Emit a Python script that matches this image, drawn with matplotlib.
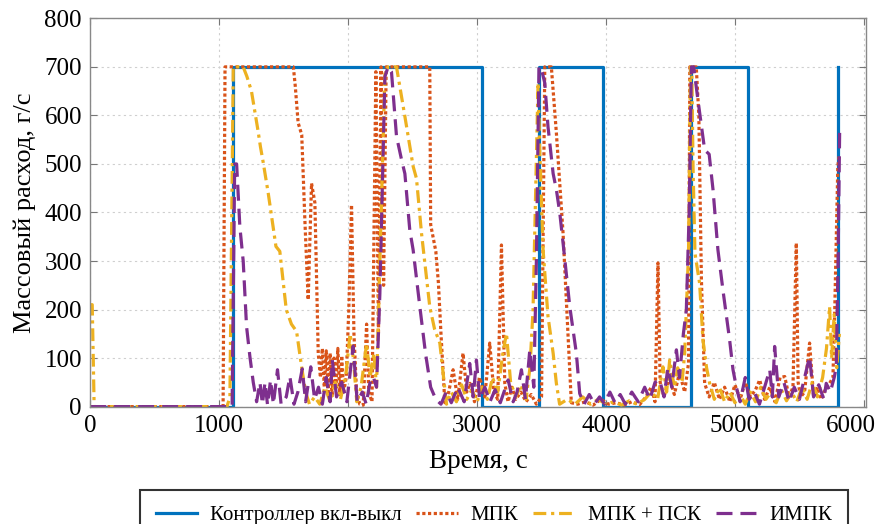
import matplotlib
matplotlib.use("Agg")
import matplotlib.pyplot as plt
from matplotlib.transforms import ScaledTranslation

plt.rcParams['font.family'] = ['Liberation Serif', 'DejaVu Serif']

# Контроллер вкл-выкл (время, расход)
onoff_t = [0, 1108, 1108, 3035, 3035, 3478, 3478, 3980, 3980, 4663, 4663, 5100, 5100, 5800, 5800]
onoff_v = [0, 0, 700, 700, 0, 0, 700, 700, 0, 0, 700, 700, 0, 0, 700]

# МПК
mpk = [(0, 0), (1030, 0), (1045, 700), (1575, 700), (1590, 660), (1612, 585), (1640, 560),
       (1665, 380), (1690, 220), (1716, 460), (1742, 420), (1768, 110), (1785, 60), (1800, 120),
       (1815, 40), (1830, 115), (1845, 30), (1860, 110), (1875, 20), (1890, 100), (1905, 35),
       (1920, 120), (1935, 25), (1950, 105), (1965, 30), (1985, 60), (2005, 200), (2026, 416),
       (2045, 150), (2065, 30), (2090, 5), (2117, 3), (2143, 170), (2160, 30), (2185, 10),
       (2215, 690), (2235, 150), (2255, 700), (2275, 250), (2295, 700), (2633, 700), (2640, 375),
       (2680, 320), (2700, 255), (2720, 150), (2750, 8), (2780, 30), (2814, 76), (2850, 15),
       (2891, 110), (2920, 30), (2945, 48), (2980, 10), (3020, 60), (3060, 20), (3098, 131),
       (3130, 30), (3160, 15), (3189, 333), (3215, 48), (3240, 10), (3270, 40), (3300, 15),
       (3340, 30), (3380, 10), (3420, 25), (3460, 5), (3500, 20), (3525, 700), (3576, 700),
       (3615, 564), (3667, 357), (3705, 151), (3731, 8), (3780, 5), (3840, 10), (3900, 3),
       (3960, 15), (4020, 5), (4080, 8), (4140, 3), (4200, 10), (4260, 4), (4310, 20), (4350, 40),
       (4380, 10), (4403, 296), (4420, 50), (4450, 20), (4490, 60), (4530, 25), (4570, 70),
       (4610, 30), (4640, 90), (4650, 700), (4700, 700), (4720, 600), (4740, 261), (4765, 48),
       (4800, 20), (4840, 50), (4880, 15), (4920, 40), (4960, 10), (5000, 45), (5040, 15),
       (5080, 50), (5120, 20), (5160, 35), (5192, 55), (5230, 15), (5270, 40), (5310, 10),
       (5350, 60), (5386, 62), (5420, 20), (5450, 40), (5476, 337), (5490, 50), (5510, 20),
       (5540, 30), (5579, 131), (5610, 20), (5640, 40), (5670, 15), (5700, 35), (5734, 48),
       (5760, 60), (5773, 185), (5798, 495), (5810, 520)]

# МПК + ПСК
mpk_psk = [(0, 210), (15, 210), (30, 0), (1060, 0), (1083, 20), (1109, 700), (1186, 700),
           (1215, 680), (1250, 650), (1300, 570), (1320, 535), (1340, 505), (1380, 440),
           (1440, 330), (1470, 320), (1520, 200), (1560, 170), (1600, 155), (1640, 80), (1670, 30),
           (1700, 5), (1740, 20), (1780, 5), (1820, 40), (1860, 10), (1900, 50), (1940, 15),
           (1980, 60), (2015, 150), (2040, 100), (2067, 10), (2100, 40), (2143, 130), (2170, 60),
           (2200, 110), (2220, 40), (2246, 300), (2285, 687), (2310, 700), (2375, 700),
           (2440, 598), (2504, 495), (2530, 470), (2569, 357), (2633, 206), (2670, 160),
           (2711, 131), (2763, 5), (2800, 30), (2840, 10), (2880, 45), (2920, 15), (2960, 35),
           (3000, 10), (3040, 40), (3080, 15), (3120, 60), (3160, 30), (3200, 110), (3228, 151),
           (3260, 50), (3300, 20), (3340, 45), (3380, 15), (3410, 80), (3434, 199), (3473, 667),
           (3486, 529), (3512, 323), (3550, 186), (3590, 110), (3615, 48), (3640, 5), (3700, 15),
           (3760, 5), (3820, 20), (3880, 5), (3940, 15), (4000, 5), (4060, 10), (4120, 3),
           (4180, 12), (4240, 5), (4300, 15), (4350, 30), (4400, 15), (4442, 82), (4470, 30),
           (4494, 96), (4530, 40), (4556, 80), (4590, 50), (4610, 110), (4640, 317), (4655, 700),
           (4665, 700), (4675, 495), (4690, 316), (4726, 254), (4752, 137), (4780, 80),
           (4804, 48), (4840, 15), (4880, 40), (4920, 10), (4960, 30), (5000, 8), (5040, 25),
           (5080, 5), (5120, 30), (5160, 10), (5200, 40), (5240, 15), (5280, 30), (5320, 8),
           (5360, 35), (5400, 12), (5440, 30), (5480, 10), (5520, 40), (5560, 15), (5600, 50),
           (5640, 20), (5680, 60), (5710, 120), (5734, 206), (5750, 100), (5770, 190),
           (5790, 80), (5810, 150)]

# ИМПК
impk = [(0, 0), (1100, 0), (1120, 500), (1135, 500), (1160, 371), (1186, 300), (1212, 165),
        (1238, 103), (1264, 50), (1290, 10), (1316, 50), (1335, 5), (1355, 50), (1375, 3),
        (1398, 55), (1420, 5), (1452, 76), (1480, 5), (1520, 20), (1548, 62), (1580, 5),
        (1610, 30), (1644, 78), (1670, 10), (1710, 82), (1740, 15), (1770, 40), (1800, 5),
        (1830, 60), (1860, 10), (1877, 96), (1910, 20), (1950, 50), (1990, 10), (2039, 125),
        (2070, 10), (2110, 30), (2140, 5), (2168, 48), (2194, 62), (2220, 40), (2246, 233),
        (2285, 680), (2310, 700), (2336, 690), (2375, 557), (2414, 509), (2440, 480),
        (2478, 364), (2504, 323), (2556, 206), (2600, 110), (2640, 40), (2680, 15), (2720, 5),
        (2760, 30), (2800, 8), (2850, 40), (2900, 10), (2943, 89), (2970, 20), (2995, 96),
        (3020, 15), (3060, 40), (3100, 10), (3140, 35), (3180, 8), (3241, 55), (3280, 10),
        (3310, 30), (3344, 76), (3375, 15), (3409, 117), (3440, 40), (3460, 300), (3480, 700),
        (3495, 700), (3525, 667), (3550, 577), (3590, 480), (3615, 447), (3641, 400),
        (3667, 337), (3719, 206), (3770, 110), (3796, 27), (3830, 5), (3870, 25), (3910, 5),
        (3950, 20), (3990, 5), (4030, 30), (4070, 8), (4110, 25), (4150, 5), (4200, 30),
        (4250, 10), (4300, 40), (4340, 15), (4380, 50), (4416, 55), (4450, 20), (4480, 80),
        (4510, 40), (4546, 117), (4570, 60), (4600, 150), (4623, 199), (4645, 400), (4662, 700),
        (4680, 700), (4713, 632), (4765, 529), (4800, 520), (4830, 447), (4868, 323),
        (4907, 240), (4959, 137), (4985, 76), (5011, 40), (5040, 10), (5080, 60), (5110, 15),
        (5150, 30), (5190, 5), (5230, 40), (5270, 76), (5290, 20), (5308, 124), (5340, 20),
        (5380, 50), (5420, 10), (5460, 40), (5500, 15), (5540, 60), (5579, 103), (5610, 20),
        (5650, 45), (5690, 15), (5708, 48), (5740, 30), (5770, 60), (5786, 82), (5800, 300),
        (5812, 564)]

labels = ['Контроллер вкл-выкл', 'МПК', 'МПК + ПСК', 'ИМПК']
colors = ['#0072BD', '#D95319', '#EDB120', '#7E2F8E']

fig = plt.figure(figsize=(8.8, 5.24), dpi=100)
ax = fig.add_axes([0.1026, 0.224, 0.882, 0.741])

lw = 2.3
ax.plot(onoff_t, onoff_v, color=colors[0], lw=lw, label=labels[0])
t, v = zip(*mpk)
ax.plot(t, v, color=colors[1], lw=lw, linestyle=(0, (1, 0.8)), label=labels[1])
t, v = zip(*mpk_psk)
ax.plot(t, v, color=colors[2], lw=lw, linestyle=(0, (4, 1.5, 1, 1.5)), label=labels[2])
t, v = zip(*impk)
ax.plot(t, v, color=colors[3], lw=lw, linestyle=(0, (5, 2.5)), label=labels[3])

ax.set_xlim(0, 6020)
ax.set_ylim(0, 800)
ax.set_xticks(range(0, 6001, 1000))
ax.set_yticks(range(0, 801, 100))
ax.grid(True, color='#cfcfcf', linestyle=(0, (2, 3)), linewidth=0.8)
ax.tick_params(direction='in', top=True, right=True, labelsize=18, length=5,
               color='#777777', pad=6)
for s in ax.spines.values():
    s.set_color('#888888')
    s.set_linewidth(1.0)

# последняя подпись оси x сдвинута влево, чтобы не обрезалась
last = ax.get_xticklabels()[-1]
last.set_transform(last.get_transform() + ScaledTranslation(-13 / 100, 0, fig.dpi_scale_trans))

ax.set_xlabel('Время, с', fontsize=19.5, labelpad=9)
ax.set_ylabel('Массовый расход, г/с', fontsize=19, labelpad=6)

# легенда снизу, нижний край рамки уходит за край рисунка
leg = fig.legend(loc='upper left', bbox_to_anchor=(0.159, -0.2, 0.805, 0.265),
                 mode='expand', ncol=4, fontsize=15, handlelength=2.0,
                 frameon=True, fancybox=False, edgecolor='black', borderpad=0.75,
                 borderaxespad=0, handletextpad=0.6)
leg.get_frame().set_linewidth(1.5)

fig.savefig('out.png', dpi=100)
